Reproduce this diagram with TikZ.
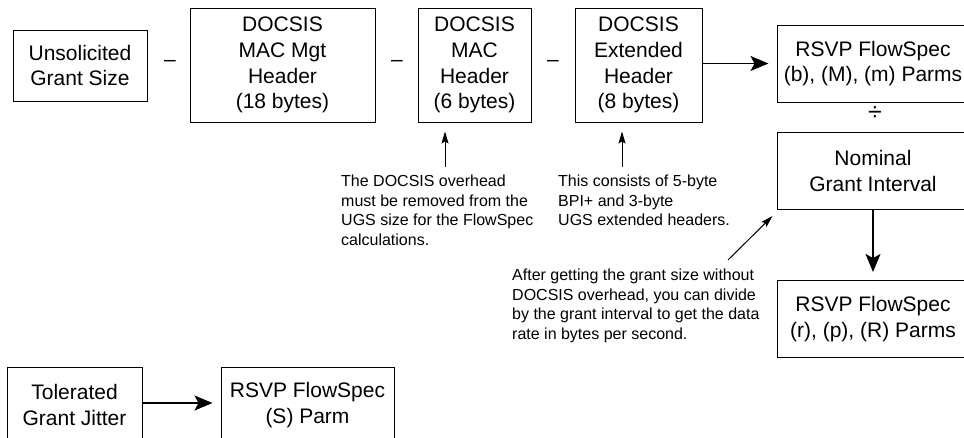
\documentclass[tikz,border=0pt]{standalone}
\usepackage{fontspec}
\setmainfont{Liberation Sans}
\usetikzlibrary{arrows.meta,calc}
\begin{document}
\begin{tikzpicture}[x=1pt,y=-1pt,
  box/.style={draw, line width=1pt, inner sep=0pt, align=center, font=\fontsize{21}{25.7}\selectfont},
  note/.style={inner sep=0pt, align=left, anchor=north west, font=\fontsize{16}{19.5}\selectfont},
  op/.style={inner sep=0pt, font=\fontsize{21}{25}\selectfont},
  bigarrow/.style={line width=1.3pt, -{Stealth[length=18pt,width=15pt,inset=4pt]}, shorten >=8pt},
  smallarrow/.style={line width=1pt, -{Stealth[length=12pt,width=7pt,inset=2pt]}, shorten >=9pt},
]
\useasboundingbox (0,0) rectangle (964,437);
\fill[white] (0,0) rectangle (964,437);
\clip (0,0) rectangle (964,437);

% top row
\node[box, minimum width=134pt, minimum height=71pt] (usg) at (80,65.5) {Unsolicited\\Grant Size};
\node[op] (m1) at (170,63) {–};
\node[box, minimum width=185pt, minimum height=114pt] (mgt) at (282.5,65) {DOCSIS\\MAC Mgt\\Header\\(18 bytes)};
\node[op] (m2) at (397,63) {–};
\node[box, minimum width=113pt, minimum height=114pt] (mac) at (474.5,65) {DOCSIS\\MAC\\Header\\(6 bytes)};
\node[op] (m3) at (553,63) {–};
\node[box, minimum width=127pt, minimum height=114pt] (ext) at (638.5,65) {DOCSIS\\Extended\\Header\\(8 bytes)};

% right column
\node[box, minimum width=192pt, minimum height=77pt] (rsvp1) at (873,63.5) {RSVP FlowSpec\\(b), (M), (m) Parms};
\node[op, font=\fontsize{25}{28}\selectfont] (div) at (875,114) {÷};
\node[box, minimum width=192pt, minimum height=77pt] (nom) at (873,171) {Nominal\\Grant Interval};
\node[box, minimum width=192pt, minimum height=77pt] (rsvp2) at (873,319) {RSVP FlowSpec\\(r), (p), (R) Parms};

% bottom row
\node[box, minimum width=135pt, minimum height=76pt] (tgj) at (74.5,405) {Tolerated\\Grant Jitter};
\node[box, minimum width=173pt, minimum height=76pt] (rsvp3) at (307.5,405) {RSVP FlowSpec\\(S) Parm};

% notes
\node[note] (n1) at (341,175) {The DOCSIS overhead\\must be removed from the\\UGS size for the FlowSpec\\calculations.};
\node[note] (n2) at (558,175) {This consists of 5-byte\\BPI+ and 3-byte\\UGS extended headers.};
\node[note] (n3) at (512,269) {After getting the grant size without\\DOCSIS overhead, you can divide\\by the grant interval to get the data\\rate in bytes per second.};

% connectors
\draw[bigarrow] (ext.east |- rsvp1.west) -- (rsvp1.west);
\draw[bigarrow] (nom.south) -- (rsvp2.north);
\draw[bigarrow] (tgj.east |- 0,403) -- (rsvp3.west |- 0,403);

\coordinate (a1) at (445,167);
\coordinate (a2) at (622,167);
\coordinate (a3) at (728,260);
\draw[smallarrow] (a1) -- (a1 |- mac.south);
\draw[smallarrow] (a2) -- (a2 |- ext.south);
\draw[smallarrow, shorten >=0pt] (a3) -- ($(nom.south west)+(-4,6)$);
\end{tikzpicture}
\end{document}
